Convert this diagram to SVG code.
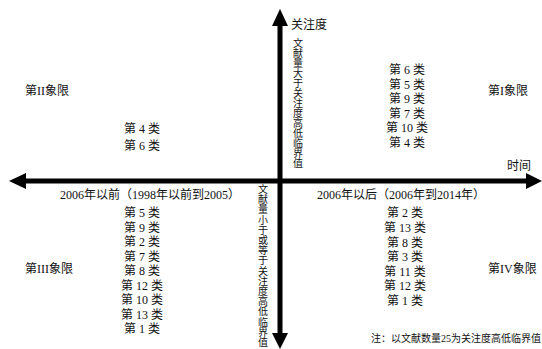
<svg xmlns="http://www.w3.org/2000/svg" width="542" height="349" viewBox="0 0 542 349">
<style>
text{font-family:"Liberation Serif","Noto Sans CJK SC",serif;font-size:12px;fill:#111}
.c{text-anchor:middle}
.v{font-size:10px;text-anchor:middle}
.n{font-size:10px}
.ax{stroke:#000;stroke-width:5;fill:none}
.ah{fill:#000}
</style>
<rect width="542" height="349" fill="#fff"/>
<g id="connectors">
<line class="ax" x1="280" y1="24" x2="280" y2="335"/>
<line class="ax" x1="24" y1="181" x2="529" y2="181"/>
<polygon class="ah" points="280,9 272,26 288,26"/>
<polygon class="ah" points="280,349 272,333 288,333"/>
<polygon class="ah" points="9,181 26,173 26,189"/>
<polygon class="ah" points="542,181 526,173 526,189"/>
</g>
<g id="axis-y-label"><text x="291" y="29">关注度</text></g>
<g id="axis-x-label"><text x="507" y="170">时间</text></g>
<g id="upper-threshold">
<text class="v"><tspan x="298" y="47">文</tspan><tspan x="298" y="57">献</tspan><tspan x="298" y="67">量</tspan><tspan x="298" y="77">大</tspan><tspan x="298" y="87">于</tspan><tspan x="298" y="97">关</tspan><tspan x="298" y="107">注</tspan><tspan x="298" y="117">度</tspan><tspan x="298" y="127">高</tspan><tspan x="298" y="137">低</tspan><tspan x="298" y="147">临</tspan><tspan x="298" y="157">界</tspan><tspan x="298" y="167">值</tspan></text>
</g>
<g id="lower-threshold">
<text class="v"><tspan x="263" y="193">文</tspan><tspan x="263" y="203.2">献</tspan><tspan x="263" y="213.4">量</tspan><tspan x="263" y="223.6">小</tspan><tspan x="263" y="233.8">于</tspan><tspan x="263" y="244">或</tspan><tspan x="263" y="254.2">等</tspan><tspan x="263" y="264.4">于</tspan><tspan x="263" y="274.6">关</tspan><tspan x="263" y="284.8">注</tspan><tspan x="263" y="295">度</tspan><tspan x="263" y="305.2">高</tspan><tspan x="263" y="315.4">低</tspan><tspan x="263" y="325.6">临</tspan><tspan x="263" y="335.8">界</tspan><tspan x="263" y="346">值</tspan></text>
</g>
<g id="quadrant-1">
<text x="488" y="95">第I象限</text>
<text class="c" x="407" y="74">第 6 类</text>
<text class="c" x="407" y="88.5">第 5 类</text>
<text class="c" x="407" y="103">第 9 类</text>
<text class="c" x="407" y="117.5">第 7 类</text>
<text class="c" x="407" y="132">第 10 类</text>
<text class="c" x="407" y="146.5">第 4 类</text>
</g>
<g id="quadrant-2">
<text x="25" y="95">第II象限</text>
<text class="c" x="142" y="133">第 4 类</text>
<text class="c" x="142" y="150">第 6 类</text>
</g>
<g id="quadrant-3">
<text x="60" y="199">2006年以前（1998年以前到2005）</text>
<text x="25" y="273">第III象限</text>
<text class="c" x="142" y="217">第 5 类</text>
<text class="c" x="142" y="231.5">第 9 类</text>
<text class="c" x="142" y="246">第 2 类</text>
<text class="c" x="142" y="260.5">第 7 类</text>
<text class="c" x="142" y="275">第 8 类</text>
<text class="c" x="142" y="289.5">第 12 类</text>
<text class="c" x="142" y="304">第 10 类</text>
<text class="c" x="142" y="318.5">第 13 类</text>
<text class="c" x="142" y="333">第 1 类</text>
</g>
<g id="quadrant-4">
<text x="317" y="199">2006年以后（2006年到2014年）</text>
<text x="488" y="273">第IV象限</text>
<text class="c" x="405" y="217">第 2 类</text>
<text class="c" x="405" y="232">第 13 类</text>
<text class="c" x="405" y="246.5">第 8 类</text>
<text class="c" x="405" y="261">第 3 类</text>
<text class="c" x="405" y="275.5">第 11 类</text>
<text class="c" x="405" y="290">第 12 类</text>
<text class="c" x="405" y="304.5">第 1 类</text>
</g>
<g id="note"><text class="n" x="371" y="342">注：以文献数量25为关注度高低临界值</text></g>
</svg>
